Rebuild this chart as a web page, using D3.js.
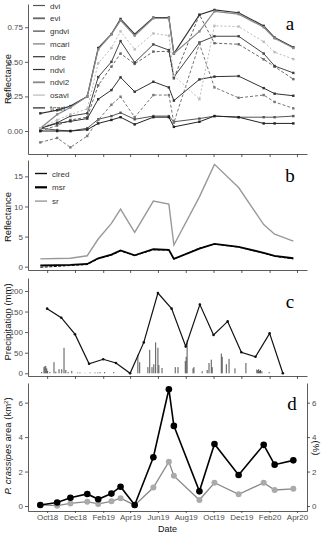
<!DOCTYPE html>
<html lang="en">
<head>
<meta charset="UTF-8">
<title>Reflectance, precipitation and P. crassipes area</title>
<script src="https://d3js.org/d3.v7.min.js"></script>
<style>
    body {
        margin: 0;
        background: #fff;
    }
    svg {
        display: block;
        font-family: 'Liberation Sans', Arial, sans-serif;
    }
    .axis path,
    .axis line {
        stroke: #333;
        stroke-width: 0.8;
    }
    .axis text {
        fill: #4d4d4d;
        font-size: 8px;
    }
    .title {
        font-size: 9.5px;
        fill: #111;
    }
    .panel-label {
        font-family: 'Liberation Serif', 'Times New Roman', serif;
        font-size: 19px;
        fill: #000;
    }
    .legend text {
        font-size: 8px;
        fill: #333;
    }
</style>
</head>
<body>
<script>
// sampling dates of the imagery (panels a, b, d)
var sampleDates = ["2018-09-16", "2018-10-23", "2018-11-21", "2018-12-28", "2019-01-21",
    "2019-02-19", "2019-03-11", "2019-04-11", "2019-05-22", "2019-06-25", "2019-07-06",
    "2019-08-31", "2019-10-03", "2019-11-25", "2020-01-19", "2020-02-12", "2020-03-24"];

var dvi   = [0.02, 0.007, 0.0, 0.02, 0.085, 0.108, 0.132, 0.085, 0.108, 0.108, 0.067, 0.09, 0.108, 0.1, 0.1, 0.1, 0.108];
var evi   = [0.0, 0.04, 0.08, 0.10, 0.33, 0.465, 0.56, 0.485, 0.574, 0.575, 0.38, 0.84, 0.635, 0.627, 0.518, 0.465, 0.375];
var gndvi = [0.02, 0.06, 0.108, 0.128, 0.39, 0.50, 0.65, 0.495, 0.626, 0.585, 0.39, 0.64, 0.685, 0.685, 0.56, 0.47, 0.42];
var mcari = [-0.082, -0.05, -0.118, -0.036, 0.08, 0.19, 0.248, 0.10, 0.26, 0.26, 0.06, 0.63, 0.315, 0.24, 0.26, 0.21, 0.164];
var ndre  = [0.02, 0.055, 0.07, 0.09, 0.23, 0.296, 0.388, 0.284, 0.356, 0.315, 0.22, 0.373, 0.393, 0.397, 0.31, 0.27, 0.255];
var ndvi  = [0.128, 0.15, 0.18, 0.25, 0.60, 0.70, 0.81, 0.70, 0.82, 0.82, 0.56, 0.84, 0.875, 0.855, 0.76, 0.675, 0.605];
var ndvi2 = [0.02, 0.12, 0.17, 0.25, 0.59, 0.70, 0.80, 0.69, 0.815, 0.815, 0.56, 0.72, 0.865, 0.845, 0.75, 0.67, 0.60];
var osavi = [0.02, 0.08, 0.12, 0.16, 0.49, 0.60, 0.72, 0.59, 0.705, 0.69, 0.40, 0.23, 0.76, 0.755, 0.645, 0.57, 0.52];
var tcari = [0.0, 0.0, 0.0, 0.01, 0.055, 0.08, 0.1, 0.048, 0.1, 0.1, 0.03, 0.067, 0.108, 0.1, 0.055, 0.055, 0.055];

var clred = [-0.1, 0.05, 0.2, 0.35, 1.3, 1.9, 2.6, 1.85, 2.8, 2.75, 1.25, 3.1, 3.75, 3.25, 2.25, 1.7, 1.3];
var msr   = [0.2, 0.25, 0.3, 0.45, 1.4, 2.0, 2.7, 1.9, 2.9, 2.8, 1.3, 3.0, 3.8, 3.3, 2.3, 1.8, 1.4];
var sr    = [1.3, 1.35, 1.4, 1.82, 4.6, 7.2, 9.55, 5.7, 10.9, 10.4, 3.6, 11.6, 17.0, 13.15, 7.0, 5.4, 4.25];

// monthly precipitation (line) and daily precipitation (bars), mm
var rainMonths = ["2018-10", "2018-11", "2018-12", "2019-01", "2019-02", "2019-03", "2019-04", "2019-05", "2019-06",
    "2019-07", "2019-08", "2019-09", "2019-10", "2019-11", "2019-12", "2020-01", "2020-02", "2020-03"];
var rainMonthly = [157, 135, 95, 23, 34, 25, 0, 75, 195, 157, 65, 167, 93, 126, 51, 40, 97, 0];

var rainDays = ["2018-09-19", "2018-09-24", "2018-09-26", "2018-09-28", "2018-09-30", "2018-10-02", "2018-10-07",
    "2018-10-16", "2018-10-20", "2018-10-27", "2018-11-02", "2018-11-07", "2018-11-11", "2018-11-16", "2018-11-24",
    "2018-12-07", "2018-12-12", "2018-12-23", "2019-01-03", "2019-01-14", "2019-01-20", "2019-01-25", "2019-02-04",
    "2019-02-24", "2019-04-18", "2019-04-22", "2019-05-10", "2019-05-14", "2019-05-19", "2019-05-23", "2019-05-27",
    "2019-06-01", "2019-06-03", "2019-06-10", "2019-07-09", "2019-07-15", "2019-07-31", "2019-08-02", "2019-08-04",
    "2019-08-17", "2019-08-19", "2019-09-06", "2019-09-17", "2019-09-21", "2019-09-26", "2019-09-28", "2019-10-18",
    "2019-10-20", "2019-10-29", "2019-11-04", "2019-11-17", "2019-12-11", "2020-01-04", "2020-01-06", "2020-01-08",
    "2020-01-10", "2020-01-12", "2020-01-15", "2020-01-31"];
var rainDaily = [3, 15, 17, 18, 12, 6, 3,
    27, 4, 10, 10, 62, 8, 3, 6,
    2, 2, 1, 2, 2, 2, 3, 3,
    3, 45, 27, 15, 57, 15, 22, 75,
    62, 20, 13, 15, 15, 30, 40, 80,
    12, 15, 5, 8, 25, 33, 15, 48,
    40, 22, 35, 12, 25, 9, 8, 10,
    6, 8, 5, 3];

var areaKm2 = [0.06, 0.2, 0.48, 0.7, 0.39, 0.72, 1.12, 0.06, 2.83, 6.78, 4.65, 0.85, 3.6, 1.8, 3.55, 2.4, 2.65];
var areaPct = [0.06, 0.02, 0.15, 0.25, 0.12, 0.27, 0.45, 0.05, 1.07, 2.57, 1.75, 0.35, 1.35, 0.68, 1.35, 0.93, 1.0];

var dateTicks = ["2018-10-01", "2018-12-01", "2019-02-01", "2019-04-01", "2019-06-01",
    "2019-08-01", "2019-10-01", "2019-12-01", "2020-02-01", "2020-04-01"];

var parseDay = d3.utcParse("%Y-%m-%d"),
    parseMonth = d3.utcParse("%Y-%m");

var width = 324,
    height = 534,
    left = 28,
    right = 307;

var svg = d3.select("body")
    .append("svg")
    .attr("width", width)
    .attr("height", height);

var x = d3.scaleUtc()
    .domain([parseDay("2018-08-20"), parseDay("2020-04-23")])
    .range([left, right]);

var tickDates = dateTicks.map(parseDay);
var dates = sampleDates.map(parseDay);

function frame(y, bottom, yTicks, fmt, labelDates) {
    svg.append("g")
        .attr("class", "axis")
        .attr("transform", "translate(0," + bottom + ")")
        .call(d3.axisBottom(x)
            .tickValues(tickDates)
            .tickSize(labelDates ? 2 : 3)
            .tickSizeOuter(0)
            .tickPadding(1)
            .tickFormat(labelDates ? d3.utcFormat("%b%y") : ""));

    svg.append("g")
        .attr("class", "axis")
        .attr("transform", "translate(" + left + ",0)")
        .call(d3.axisLeft(y)
            .tickValues(yTicks)
            .tickSize(3)
            .tickSizeOuter(0)
            .tickPadding(2)
            .tickFormat(fmt));
}

function yTitle(text, cy) {
    return svg.append("text")
        .attr("class", "title")
        .attr("transform", "translate(11," + cy + ") rotate(-90)")
        .attr("text-anchor", "middle")
        .text(text);
}

function panelLabel(text, px, py) {
    svg.append("text")
        .attr("class", "panel-label")
        .attr("x", px)
        .attr("y", py)
        .attr("text-anchor", "middle")
        .text(text);
}

function series(y, values, style) {
    var pts = values.map(function(v, i) { return [dates[i], v]; });
    var line = d3.line()
        .x(function(d) { return x(d[0]); })
        .y(function(d) { return y(d[1]); });
    svg.append("path")
        .datum(pts)
        .attr("fill", "none")
        .attr("stroke", style.color)
        .attr("stroke-width", style.width)
        .attr("stroke-dasharray", style.dash || null)
        .attr("d", line);
    return pts;
}

// ---- panel a: vegetation indices
var ya = d3.scaleLinear().domain([-0.166, 0.918]).range([154, 4]);
frame(ya, 154, [0, 0.25, 0.5, 0.75], d3.format(".2f"), false);
yTitle("Reflectance", 79);

var indexNames = ["dvi", "evi", "gndvi", "mcari", "ndre", "ndvi", "ndvi2", "osavi", "tcari"];
var indexValues = [dvi, evi, gndvi, mcari, ndre, ndvi, ndvi2, osavi, tcari];
var indexStyles = [
    { color: "#555", width: 1 },
    { color: "#666", width: 1, dash: "3,2" },
    { color: "#444", width: 1 },
    { color: "#777", width: 1, dash: "3,2" },
    { color: "#333", width: 1 },
    { color: "#333", width: 1.2 },
    { color: "#888", width: 1.2 },
    { color: "#bbb", width: 1, dash: "2,2" },
    { color: "#222", width: 1 }
];

indexValues.forEach(function(vals, k) {
    var pts = series(ya, vals, indexStyles[k]);
    svg.selectAll(null)
        .data(pts)
        .enter().append("rect")
        .attr("x", function(d) { return x(d[0]) - 1.2; })
        .attr("y", function(d) { return ya(d[1]) - 1.2; })
        .attr("width", 2.4)
        .attr("height", 2.4)
        .attr("fill", indexStyles[k].color);
});

var legA = svg.append("g").attr("class", "legend");
indexNames.forEach(function(name, k) {
    var ly = 5.5 + k * 12.8;
    legA.append("line")
        .attr("x1", 33).attr("x2", 45)
        .attr("y1", ly).attr("y2", ly)
        .attr("stroke", indexStyles[k].color)
        .attr("stroke-width", k === 1 || k === 6 ? 1.8 : 1.2);
    legA.append("text")
        .attr("x", 50).attr("y", ly + 3)
        .text(name);
});
panelLabel("a", 290, 30);

// ---- panel b: ratio indices
var yb = d3.scaleLinear().domain([-0.55, 17.72]).range([270, 160]);
frame(yb, 270, [0, 5, 10, 15], d3.format("d"), false);
yTitle("Reflectance", 217);

var ratioNames = ["clred", "msr", "sr"];
var ratioValues = [clred, msr, sr];
var ratioStyles = [
    { color: "#111", width: 1, dash: "3,1.5" },
    { color: "#000", width: 1.8 },
    { color: "#999", width: 1.4 }
];
ratioValues.forEach(function(vals, k) {
    series(yb, vals, ratioStyles[k]);
});

var legB = svg.append("g").attr("class", "legend");
ratioNames.forEach(function(name, k) {
    var ly = 173.5 + k * 13.8;
    legB.append("line")
        .attr("x1", 35).attr("x2", 47)
        .attr("y1", ly).attr("y2", ly)
        .attr("stroke", ratioStyles[k].color)
        .attr("stroke-width", k === 1 ? 2.2 : 1.4);
    legB.append("text")
        .attr("x", 52).attr("y", ly + 3)
        .text(name);
});
panelLabel("b", 290, 182);

// ---- panel c: precipitation
var yc = d3.scaleLinear().domain([-6.6, 231.5]).range([376, 278]);
frame(yc, 376, [0, 50, 100, 150, 200], d3.format("d"), false);
yTitle("Precipitation (mm)", 322);

svg.selectAll(".rain-bar")
    .data(rainDays.map(function(d, i) { return [parseDay(d), rainDaily[i]]; }))
    .enter().append("rect")
    .attr("class", "rain-bar")
    .attr("x", function(d) { return x(d[0]) - 0.5; })
    .attr("y", function(d) { return yc(d[1]); })
    .attr("width", 1)
    .attr("height", function(d) { return yc(0) - yc(d[1]); })
    .attr("fill", "#555");

var monthly = rainMonths.map(function(m, i) { return [parseMonth(m), rainMonthly[i]]; });
svg.append("path")
    .datum(monthly)
    .attr("fill", "none")
    .attr("stroke", "#111")
    .attr("stroke-width", 1.2)
    .attr("d", d3.line()
        .x(function(d) { return x(d[0]); })
        .y(function(d) { return yc(d[1]); }));
svg.selectAll(".rain-pt")
    .data(monthly)
    .enter().append("circle")
    .attr("class", "rain-pt")
    .attr("cx", function(d) { return x(d[0]); })
    .attr("cy", function(d) { return yc(d[1]); })
    .attr("r", 1.3)
    .attr("fill", "#111");
panelLabel("c", 290, 308);

// ---- panel d: P. crassipes area
var yd = d3.scaleLinear().domain([-0.29, 7.14]).range([511, 383]);
frame(yd, 511, [0, 2, 4, 6], d3.format("d"), true);

svg.append("g")
    .attr("class", "axis")
    .attr("transform", "translate(" + right + ",0)")
    .call(d3.axisRight(yd)
        .tickValues([0, 2, 4, 6])
        .tickSize(3)
        .tickSizeOuter(0)
        .tickPadding(2)
        .tickFormat(d3.format("d")));

var titleD = svg.append("text")
    .attr("class", "title")
    .attr("transform", "translate(11,446) rotate(-90)")
    .attr("text-anchor", "middle");
titleD.append("tspan").attr("font-style", "italic").text("P. crassipes");
titleD.append("tspan").text(" area (km");
titleD.append("tspan").attr("font-size", "6px").attr("dy", "-3").text("2");
titleD.append("tspan").attr("dy", "3").text(")");

svg.append("text")
    .attr("class", "title")
    .attr("transform", "translate(313,448) rotate(90)")
    .attr("text-anchor", "middle")
    .text("(%)");

svg.append("text")
    .attr("class", "title")
    .attr("x", (left + right) / 2)
    .attr("y", 532)
    .attr("text-anchor", "middle")
    .style("font-size", "9px")
    .text("Date");

var pctPts = series(yd, areaPct, { color: "#888", width: 1.3 });
svg.selectAll(".pct-pt")
    .data(pctPts)
    .enter().append("circle")
    .attr("class", "pct-pt")
    .attr("cx", function(d) { return x(d[0]); })
    .attr("cy", function(d) { return yd(d[1]); })
    .attr("r", 3)
    .attr("fill", "#aaa");

var kmPts = series(yd, areaKm2, { color: "#000", width: 1.6 });
svg.selectAll(".km-pt")
    .data(kmPts)
    .enter().append("circle")
    .attr("class", "km-pt")
    .attr("cx", function(d) { return x(d[0]); })
    .attr("cy", function(d) { return yd(d[1]); })
    .attr("r", 3.3)
    .attr("fill", "#000");
panelLabel("d", 292, 410);
</script>
</body>
</html>
